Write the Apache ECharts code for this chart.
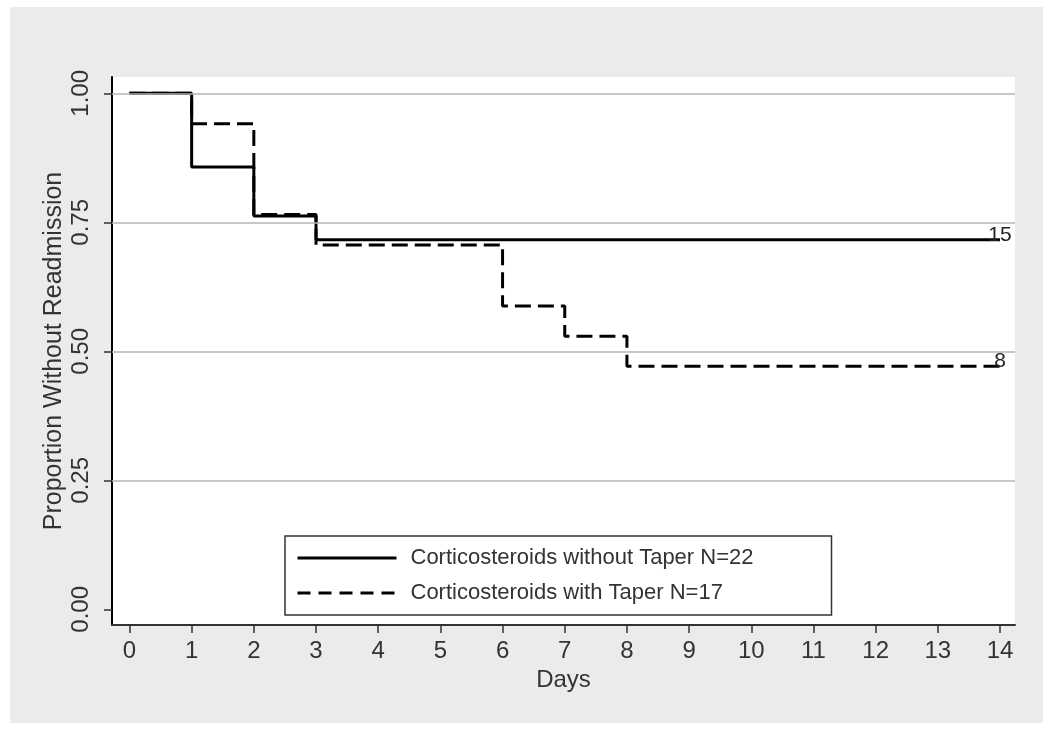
<!DOCTYPE html>
<html>
<head>
<meta charset="utf-8">
<script src="https://cdn.jsdelivr.net/npm/echarts@6/dist/echarts.min.js"></script>
<style>
  html, body { margin: 0; padding: 0; background: #ffffff; }
  #chart { width: 1050px; height: 732px; }
</style>
</head>
<body>
<div id="chart"></div>
<script>
// ---- data ----
const seriesNames = ['Corticosteroids without Taper N=22', 'Corticosteroids with Taper N=17'];
const noTaperDays = [0, 1, 2, 3, 14];
const noTaperSurv = [1.0, 0.857, 0.762, 0.716, 0.716];
const taperDays = [0, 1, 2, 3, 6, 7, 8, 14];
const taperSurv = [1.0, 0.941, 0.765, 0.706, 0.588, 0.529, 0.471, 0.471];
const atRiskLabels = ['15', '8'];
const xTicks = [0, 1, 2, 3, 4, 5, 6, 7, 8, 9, 10, 11, 12, 13, 14];
const yTicks = [0, 0.25, 0.5, 0.75, 1.0];
const gridValues = [0.25, 0.5, 0.75, 1.0];

const FONT = "'Liberation Sans', Arial, sans-serif";

function pairs(days, surv) {
  return days.map((d, i) => [d, surv[i]]);
}
function endMark(days, surv, text) {
  const n = days.length - 1;
  return {
    silent: true, animation: false,
    symbol: 'circle', symbolSize: 1,
    itemStyle: { color: 'rgba(0,0,0,0)' },
    label: { show: true, position: 'top', distance: -6, formatter: text,
             color: '#222', fontSize: 21, fontFamily: FONT },
    data: [{ coord: [days[n], surv[n]] }]
  };
}

const chart = echarts.init(document.getElementById('chart'), null, { renderer: 'canvas' });
chart.setOption({
  animation: false,
  backgroundColor: '#ffffff',
  graphic: [{
    type: 'rect', z: -10, silent: true,
    shape: { x: 10, y: 7, width: 1033, height: 716 },
    style: { fill: '#ebebeb' }
  }],
  grid: {
    left: 112, right: 35, top: 77, bottom: 107,
    show: true, backgroundColor: '#ffffff', borderWidth: 0
  },
  legend: {
    orient: 'vertical', left: 285, top: 536,
    padding: [11, 78, 11, 11],
    itemWidth: 99, itemHeight: 22, itemGap: 13,
    backgroundColor: '#ffffff', borderColor: '#333', borderWidth: 1.5, borderRadius: 0,
    itemStyle: { opacity: 0, color: 'rgba(0,0,0,0)', borderWidth: 0 },
    lineStyle: { width: 3, color: '#000' },
    textStyle: { fontSize: 22, fontFamily: FONT, color: '#333', padding: [0, 0, 0, 9], lineHeight: 22 },
    data: [
      { name: seriesNames[0] },
      { name: seriesNames[1], lineStyle: { width: 3, color: '#000', type: [13, 8] } }
    ]
  },
  xAxis: {
    type: 'value', min: -0.281, max: 14.241,
    name: 'Days', nameLocation: 'middle', nameGap: 43, nameMoveOverlap: false,
    nameTextStyle: { fontSize: 24, fontFamily: FONT, color: '#333' },
    axisLine: { show: true, onZero: false, lineStyle: { color: '#333', width: 2 } },
    axisTick: { show: true, length: 8, lineStyle: { color: '#333', width: 1.5 }, customValues: xTicks },
    axisLabel: { show: true, margin: 14, fontSize: 24, fontFamily: FONT, color: '#333', customValues: xTicks,
                 formatter: v => String(v) },
    splitLine: { show: false }
  },
  yAxis: {
    type: 'value', min: -0.0304, max: 1.0316,
    name: 'Proportion Without Readmission', nameLocation: 'middle', nameGap: 45, nameMoveOverlap: false,
    nameTextStyle: { fontSize: 25, fontFamily: FONT, color: '#333' },
    axisLine: { show: true, onZero: false, lineStyle: { color: '#000', width: 2 } },
    axisTick: { show: true, length: 8, lineStyle: { color: '#333', width: 1.5 }, customValues: yTicks },
    axisLabel: { show: true, rotate: 90, margin: 19, fontSize: 24, fontFamily: FONT, color: '#333', customValues: yTicks,
                 formatter: v => v.toFixed(2) },
    splitLine: { show: false }
  },
  series: [
    {
      name: 'grid', type: 'line', data: [], z: 1, silent: true,
      markLine: {
        silent: true, symbol: 'none', animation: false,
        label: { show: false },
        lineStyle: { color: '#b5b5b5', width: 1.5, type: 'solid' },
        data: gridValues.map(v => ({ yAxis: v }))
      }
    },
    {
      name: seriesNames[1], type: 'line', step: 'end', symbol: 'none', z: 3,
      lineStyle: { color: '#000', width: 3, type: [16, 7] },
      itemStyle: { color: '#000' },
      data: pairs(taperDays, taperSurv),
      markPoint: endMark(taperDays, taperSurv, atRiskLabels[1])
    },
    {
      name: seriesNames[0], type: 'line', step: 'end', symbol: 'none', z: 4,
      lineStyle: { color: '#000', width: 3, type: 'solid' },
      itemStyle: { color: '#000' },
      data: pairs(noTaperDays, noTaperSurv),
      markPoint: endMark(noTaperDays, noTaperSurv, atRiskLabels[0])
    }
  ]
});
</script>
</body>
</html>
